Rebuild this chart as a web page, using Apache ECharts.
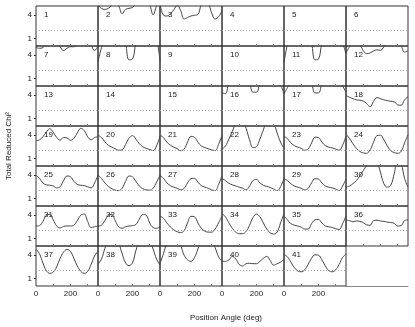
<!DOCTYPE html>
<html>
<head>
<meta charset="UTF-8">
<title>Total Reduced Chi2 vs Position Angle</title>
<script src="https://cdn.jsdelivr.net/npm/echarts@6/dist/echarts.min.js"></script>
<style>
  body { margin: 0; background: #fff; }
  #chart { width: 415px; height: 327px; }
</style>
</head>
<body>
<div id="chart"></div>
<script>
// position angle samples (deg), shared by every panel
const angles = [0, 20, 40, 60, 80, 100, 120, 140, 160, 180, 200, 220, 240, 260, 280, 300, 320, 340, 360];

// reduced chi2 per panel (values above ~5.2 fall outside the frame)
const p01 = [8.4, 8.0, 7.6, 7.5, 7.8, 8.3, 8.6, 8.2, 7.6, 7.3, 7.5, 8.0, 8.5, 8.7, 8.3, 7.8, 7.4, 7.7, 8.4];
const p02 = [5.3, 4.9, 4.75, 4.9, 5.3, 5.6, 5.2, 4.2, 4.75, 4.9, 5.0, 5.5, 6.0, 6.2, 6.0, 5.4, 4.05, 5.2, 6.0];
const p03 = [5.5, 4.0, 3.9, 4.2, 4.7, 5.3, 4.6, 3.5, 3.7, 3.9, 4.0, 4.1, 5.4, 6.0, 5.6, 4.3, 3.5, 3.8, 4.6];
const p04 = [9.6, 9.2, 8.8, 8.6, 8.9, 9.4, 9.8, 9.5, 9.0, 8.7, 8.9, 9.3, 9.7, 9.9, 9.5, 9.0, 8.7, 9.1, 9.6];
const p05 = [10.2, 9.8, 9.3, 9.0, 9.2, 9.7, 10.1, 9.9, 9.4, 9.1, 9.3, 9.8, 10.3, 10.4, 10.0, 9.5, 9.2, 9.6, 10.2];
const p06 = [8.9, 8.6, 8.2, 8.0, 8.3, 8.7, 9.0, 8.8, 8.3, 8.1, 8.2, 8.6, 9.0, 9.1, 8.8, 8.4, 8.1, 8.5, 8.9];
const p07 = [5.0, 4.9, 5.0, 5.5, 6.0, 6.2, 5.7, 5.1, 4.6, 4.9, 5.1, 5.1, 5.6, 6.2, 6.4, 6.0, 5.3, 4.6, 5.2];
const p08 = [3.2, 5.0, 7.0, 8.0, 8.5, 8.5, 8.0, 7.0, 5.6, 3.4, 3.5, 5.6, 7.0, 8.0, 8.0, 7.5, 6.5, 6.0, 3.3];
const p09 = [7.8, 7.5, 7.0, 6.8, 7.1, 7.6, 8.0, 7.7, 7.2, 6.9, 7.1, 7.5, 7.9, 8.1, 7.8, 7.3, 7.0, 7.4, 7.8];
const p10 = [7.2, 6.9, 6.5, 6.3, 6.6, 7.0, 7.3, 7.1, 6.7, 6.4, 6.6, 7.0, 7.4, 7.5, 7.2, 6.8, 6.5, 6.8, 7.2];
const p11 = [3.1, 5.4, 7.0, 8.0, 8.5, 8.5, 8.0, 7.0, 5.6, 3.4, 3.5, 5.6, 7.0, 8.0, 8.0, 7.5, 6.5, 5.6, 4.2];
const p12 = [4.3, 5.1, 5.8, 6.0, 5.5, 4.6, 4.2, 4.3, 4.55, 4.7, 4.65, 5.1, 5.8, 6.2, 6.3, 6.0, 5.3, 4.4, 4.6];
const p13 = [6.9, 6.6, 6.3, 6.1, 6.4, 6.8, 7.1, 6.9, 6.4, 6.2, 6.4, 6.8, 7.2, 7.3, 7.0, 6.6, 6.3, 6.6, 6.9];
const p14 = [6.5, 6.2, 5.9, 5.8, 6.0, 6.4, 6.7, 6.5, 6.1, 5.9, 6.0, 6.4, 6.8, 6.9, 6.6, 6.2, 5.9, 6.2, 6.5];
const p15 = [6.3, 6.0, 5.8, 5.7, 5.9, 6.3, 6.6, 6.4, 6.0, 5.8, 5.9, 6.3, 6.7, 6.8, 6.5, 6.1, 5.8, 6.0, 6.3];
const p16 = [4.3, 4.2, 6.0, 7.0, 7.5, 7.5, 7.0, 6.3, 5.6, 4.4, 4.4, 5.6, 6.5, 7.5, 7.5, 7.0, 6.2, 5.4, 4.2];
const p17 = [4.2, 5.0, 6.0, 7.0, 7.5, 7.5, 7.0, 6.2, 5.5, 4.3, 4.3, 5.5, 6.5, 7.2, 7.2, 6.6, 5.8, 5.2, 4.4];
const p18 = [3.95, 3.75, 3.55, 3.4, 3.35, 3.25, 2.9, 2.5, 3.2, 3.7, 3.55, 3.4, 3.3, 3.2, 3.15, 2.75, 2.7, 3.4, 3.8];
const p19 = [3.3, 3.4, 3.8, 4.4, 4.85, 4.4, 3.7, 3.35, 3.7, 3.65, 3.35, 3.6, 4.3, 4.9, 4.6, 3.8, 3.4, 3.7, 3.8];
const p20 = [4.0, 3.7, 3.15, 2.7, 2.45, 2.25, 2.05, 2.1, 2.8, 3.6, 3.95, 3.5, 2.9, 2.5, 2.3, 2.15, 2.0, 2.6, 3.9];
const p21 = [4.0, 3.7, 3.1, 2.7, 2.45, 2.25, 2.0, 2.2, 3.1, 3.85, 3.75, 3.1, 2.6, 2.4, 2.25, 2.1, 2.0, 2.8, 4.0];
const p22 = [2.2, 2.6, 3.5, 4.5, 5.6, 6.4, 6.0, 4.9, 3.4, 2.4, 2.5, 3.5, 4.7, 5.9, 6.4, 5.7, 4.3, 3.1, 2.3];
const p23 = [3.85, 3.55, 3.0, 2.65, 2.45, 2.3, 2.05, 2.2, 3.0, 3.75, 3.7, 3.1, 2.65, 2.45, 2.35, 2.2, 2.05, 2.7, 3.9];
const p24 = [4.1, 3.6, 2.9, 2.3, 1.9, 1.7, 1.65, 2.1, 3.1, 3.95, 4.0, 3.4, 2.6, 2.0, 1.75, 1.65, 1.9, 3.0, 4.05];
const p25 = [4.0, 3.6, 3.0, 2.75, 2.7, 2.6, 2.35, 2.5, 3.3, 3.9, 3.8, 3.2, 2.8, 2.7, 2.65, 2.5, 2.35, 3.0, 4.0];
const p26 = [4.0, 3.6, 3.0, 2.55, 2.25, 2.05, 2.0, 2.3, 3.2, 3.9, 3.8, 3.2, 2.6, 2.25, 2.1, 2.05, 2.3, 3.1, 4.0];
const p27 = [3.95, 3.6, 3.0, 2.65, 2.45, 2.3, 2.1, 2.3, 3.0, 3.55, 3.6, 3.1, 2.65, 2.45, 2.3, 2.1, 2.0, 2.8, 3.95];
const p28 = [3.6, 3.3, 2.95, 2.75, 2.6, 2.45, 2.3, 2.1, 2.6, 3.3, 3.45, 3.0, 2.7, 2.55, 2.4, 2.2, 2.0, 2.5, 3.6];
const p29 = [3.6, 3.3, 2.9, 2.6, 2.45, 2.3, 2.1, 2.3, 3.0, 3.55, 3.5, 3.0, 2.6, 2.45, 2.35, 2.2, 2.0, 2.6, 3.5];
const p30 = [2.45, 2.6, 2.9, 3.3, 3.9, 4.6, 5.3, 6.0, 6.3, 5.8, 4.4, 2.9, 2.45, 2.7, 4.2, 5.9, 5.5, 3.6, 2.45];
const p31 = [2.6, 2.65, 3.2, 4.0, 4.1, 3.4, 2.6, 2.35, 2.55, 2.6, 2.6, 2.7, 3.3, 4.0, 4.15, 3.2, 2.4, 2.5, 2.6];
const p32 = [2.6, 2.7, 3.3, 4.0, 4.1, 3.3, 2.5, 2.3, 2.5, 2.6, 2.65, 2.8, 3.5, 4.1, 4.0, 3.0, 2.4, 2.3, 2.5];
const p33 = [3.9, 3.6, 3.0, 2.5, 2.1, 1.85, 1.75, 2.0, 3.0, 3.85, 3.8, 3.0, 2.3, 1.95, 1.8, 1.8, 2.2, 3.0, 3.9];
const p34 = [4.2, 3.8, 3.0, 2.3, 1.8, 1.6, 1.6, 1.9, 2.7, 3.7, 4.15, 3.8, 3.0, 2.2, 1.7, 1.55, 1.8, 3.0, 4.2];
const p35 = [3.9, 3.4, 2.9, 2.7, 2.6, 2.45, 2.2, 2.2, 2.9, 3.4, 3.45, 3.0, 2.6, 2.5, 2.4, 2.25, 2.15, 2.9, 3.9];
const p36 = [3.35, 3.3, 3.15, 3.25, 3.2, 3.05, 2.75, 2.7, 3.3, 3.35, 3.25, 3.2, 3.1, 3.05, 2.95, 2.6, 2.65, 3.3, 3.4];
const p37 = [4.8, 4.2, 3.0, 2.0, 1.65, 1.8, 2.5, 3.6, 4.4, 4.75, 4.5, 3.6, 2.6, 1.9, 1.65, 1.9, 2.8, 3.9, 4.5];
const p38 = [2.8, 3.5, 4.9, 6.0, 6.5, 6.3, 5.6, 4.2, 3.0, 2.65, 3.0, 4.6, 6.0, 6.8, 6.8, 6.0, 4.8, 3.5, 2.7];
const p39 = [2.9, 4.2, 5.6, 6.3, 6.5, 6.2, 5.3, 4.0, 3.4, 3.2, 3.7, 4.8, 6.0, 6.5, 6.5, 6.0, 5.0, 3.8, 3.2];
const p40 = [3.2, 3.2, 3.4, 3.85, 3.5, 2.8, 2.6, 2.9, 2.95, 2.9, 2.9, 3.2, 3.6, 3.85, 3.3, 2.7, 2.9, 3.1, 3.5];
const p41 = [4.1, 3.8, 3.1, 2.4, 1.95, 1.85, 2.1, 2.8, 3.6, 4.05, 4.0, 3.4, 2.6, 2.0, 1.85, 2.1, 2.8, 3.7, 4.15];

const panels = [p01, p02, p03, p04, p05, p06, p07, p08, p09, p10, p11, p12, p13, p14,
  p15, p16, p17, p18, p19, p20, p21, p22, p23, p24, p25, p26, p27, p28, p29, p30, p31,
  p32, p33, p34, p35, p36, p37, p38, p39, p40, p41];

const xTickLabels = [0, 200];
const yTickLabels = [1, 4];
const refLevel = 2;

const FONT = 'Liberation Sans, Arial, sans-serif';
const COLS = 6, LEFT = 36, TOP = 6, PW = 62, PH = 40;

const chart = echarts.init(document.getElementById('chart'));

const grids = [], xAxes = [], yAxes = [], series = [], texts = [];

panels.forEach((vals, i) => {
  const row = Math.floor(i / COLS), col = i % COLS;
  const firstCol = col === 0;
  const bottomRow = i >= 36;
  grids.push({
    left: LEFT + col * PW, top: TOP + row * PH, width: PW, height: PH,
    show: true, borderColor: '#333', borderWidth: 1, containLabel: false
  });
  xAxes.push({
    gridIndex: i, type: 'value', min: 0, max: 360,
    axisLine: { show: false }, splitLine: { show: false },
    axisTick: { show: true, inside: true, length: 2, customValues: [100, 200, 300], lineStyle: { color: '#777' } },
    axisLabel: { show: bottomRow, customValues: xTickLabels, margin: 4, fontSize: 8, color: '#222', fontFamily: FONT }
  });
  yAxes.push({
    gridIndex: i, type: 'value', min: 0, max: 5.2,
    axisLine: { show: false }, splitLine: { show: false },
    axisTick: { show: firstCol, length: 2, customValues: yTickLabels, lineStyle: { color: '#333' } },
    axisLabel: { show: firstCol, customValues: yTickLabels, margin: 4, fontSize: 8, color: '#222', fontFamily: FONT }
  });
  series.push({
    type: 'line', xAxisIndex: i, yAxisIndex: i,
    data: angles.map((a, k) => [a, vals[k]]),
    smooth: 0.4, symbol: 'none', clip: true,
    lineStyle: { color: '#444', width: 1 },
    markLine: {
      silent: true, symbol: ['none', 'none'], label: { show: false },
      lineStyle: { color: '#aaa', width: 1, type: [1, 2] },
      data: [{ yAxis: refLevel }]
    }
  });
  texts.push({
    type: 'text', x: LEFT + col * PW + 8, y: TOP + row * PH + 9, z: 10,
    style: { text: String(i + 1), fontSize: 8, fontFamily: FONT, fill: '#222', verticalAlign: 'middle' }
  });
});

// empty slot at the bottom-right: only its bottom axis line is drawn
const last = panels.length;
grids.push({ left: LEFT + 5 * PW, top: TOP + 6 * PH, width: PW, height: PH, show: false });
xAxes.push({
  gridIndex: last, type: 'value', min: 0, max: 360,
  axisLine: { show: true, lineStyle: { color: '#888' } },
  axisTick: { show: false }, axisLabel: { show: false }, splitLine: { show: false }
});
yAxes.push({ gridIndex: last, type: 'value', min: 0, max: 5.2, show: false });

texts.push({
  type: 'text', x: 9, y: 146, rotation: Math.PI / 2,
  style: { text: 'Total Reduced Chi²', fontSize: 8, fontFamily: FONT, fill: '#222', align: 'center', verticalAlign: 'middle' }
});
texts.push({
  type: 'text', x: 226, y: 318,
  style: { text: 'Position Angle (deg)', fontSize: 8, fontFamily: FONT, fill: '#222', align: 'center', verticalAlign: 'middle' }
});

chart.setOption({
  animation: false,
  backgroundColor: '#fff',
  grid: grids,
  xAxis: xAxes,
  yAxis: yAxes,
  series: series,
  graphic: texts
});
</script>
</body>
</html>
